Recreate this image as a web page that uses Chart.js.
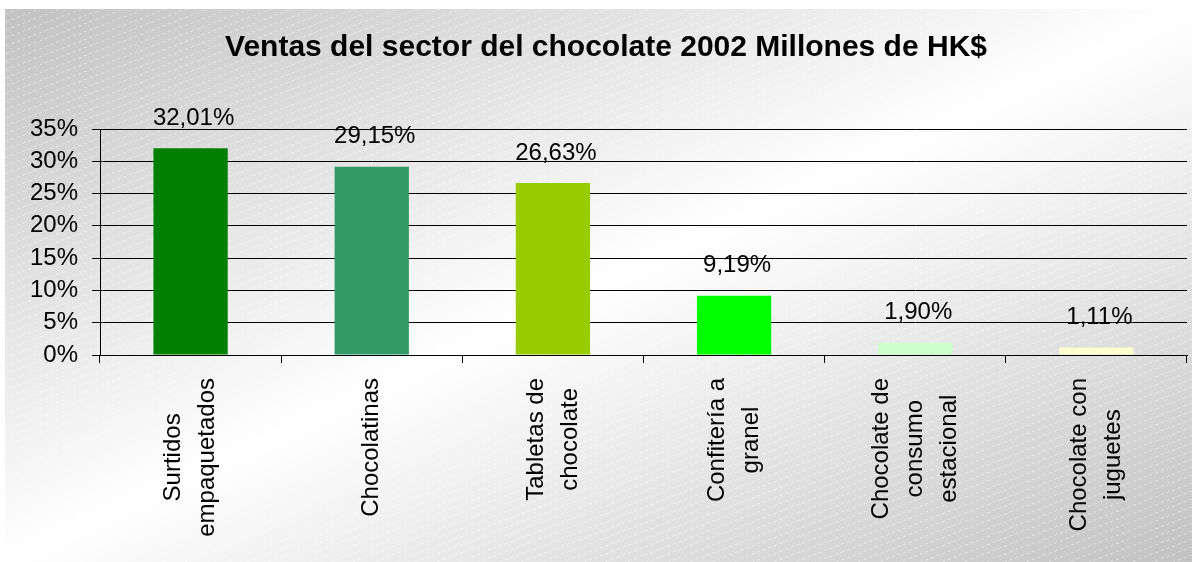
<!DOCTYPE html>
<html>
<head>
<meta charset="utf-8">
<script src="https://cdn.jsdelivr.net/npm/chart.js@4/dist/chart.umd.min.js"></script>
<style>
    html, body { margin: 0; padding: 0; background: #fff; }
    #wrap { width: 1192px; height: 562px; }
</style>
</head>
<body>
<div id="wrap"><canvas id="salesChart"></canvas></div>
<script>
const TITLE = 'Ventas del sector del chocolate 2002 Millones de HK$';

const categories = [
    ['Surtidos', 'empaquetados'],
    ['Chocolatinas'],
    ['Tabletas de', 'chocolate'],
    ['Confitería a', 'granel'],
    ['Chocolate de', 'consumo', 'estacional'],
    ['Chocolate con', 'juguetes']
];
const shares = [32.01, 29.15, 26.63, 9.19, 1.90, 1.11];
const barColors = ['#008000', '#339966', '#99CC00', '#00FF00', '#CCFFCC', '#FFFFCC'];

const FONT = '"Liberation Sans", Arial, sans-serif';

const fmtPct = v => v.toFixed(2).replace('.', ',') + '%';

// gradient + faint stripes behind everything
const backdrop = {
    id: 'backdrop',
    beforeDraw(chart) {
        const ctx = chart.ctx;
        const W = chart.width, H = chart.height;
        const x0 = 5, y0 = 9, w = W - x0, h = H - y0;
        ctx.save();
        ctx.fillStyle = '#fff';
        ctx.fillRect(0, 0, W, H);

        const cx = x0 + w / 2, cy = y0 + h / 2;
        const k = w * h / (w * w + h * h);
        const g = ctx.createLinearGradient(cx - h * k, cy - w * k, cx + h * k, cy + w * k);
        g.addColorStop(0, '#c2c2c2');
        g.addColorStop(0.5, '#ffffff');
        g.addColorStop(1, '#c2c2c2');
        ctx.fillStyle = g;
        ctx.fillRect(x0, y0, w, h);

        ctx.beginPath();
        ctx.rect(x0, y0, w, h);
        ctx.clip();
        ctx.strokeStyle = 'rgba(255,255,255,0.45)';
        ctx.lineWidth = 1;
        ctx.setLineDash([3, 3]);
        const slope = 0.38;
        for (let b = 0; b < H + W * slope; b += 8) {
            ctx.beginPath();
            ctx.moveTo(0, b);
            ctx.lineTo(W, b - W * slope);
            ctx.stroke();
        }
        ctx.restore();
    }
};

// title, value labels and centred multi-line category labels
const annotate = {
    id: 'annotate',
    afterDraw(chart) {
        const ctx = chart.ctx;
        const xs = chart.scales.x;
        const meta = chart.getDatasetMeta(0);
        ctx.save();
        ctx.fillStyle = '#000';

        ctx.font = 'bold 30px ' + FONT;
        ctx.textAlign = 'center';
        ctx.textBaseline = 'middle';
        ctx.fillText(TITLE, 606, 48);

        ctx.font = '24px ' + FONT;
        meta.data.forEach((bar, i) => {
            ctx.fillText(fmtPct(shares[i]), bar.x + 3, bar.y - 30);
        });

        ctx.font = '24px ' + FONT;
        const lineH = 34;
        const top = chart.chartArea.bottom + 23;
        categories.forEach((lines, i) => {
            const x = xs.getPixelForValue(i);
            const maxW = Math.max(...lines.map(l => ctx.measureText(l).width));
            ctx.save();
            ctx.translate(x, top);
            ctx.rotate(-Math.PI / 2);
            lines.forEach((l, j) => {
                const off = (j - (lines.length - 1) / 2) * lineH;
                ctx.fillText(l, -maxW / 2, off);
            });
            ctx.restore();
        });
        ctx.restore();
    }
};

function initChart() {
    const ctx = document.getElementById('salesChart').getContext('2d');
    new Chart(ctx, {
        type: 'bar',
        data: {
            labels: categories.map(c => c.join(' ')),
            datasets: [{
                data: shares,
                backgroundColor: barColors,
                borderWidth: 0,
                categoryPercentage: 1,
                barPercentage: 0.41
            }]
        },
        options: {
            responsive: true,
            maintainAspectRatio: false,
            animation: false,
            layout: { padding: { top: 129, left: 5, right: 5, bottom: 0 } },
            plugins: {
                legend: { display: false },
                title: { display: false },
                tooltip: { enabled: false }
            },
            scales: {
                x: {
                    grid: {
                        offset: true,
                        drawOnChartArea: false,
                        drawTicks: true,
                        tickLength: 8,
                        color: '#000'
                    },
                    border: { color: '#000', width: 1 },
                    ticks: { display: false },
                    afterFit: s => { s.height = 207; }
                },
                y: {
                    min: 0,
                    max: 35,
                    grid: { color: '#000', tickLength: 8, lineWidth: 1 },
                    border: { color: '#000', width: 1 },
                    ticks: {
                        stepSize: 5,
                        padding: 14,
                        color: '#000',
                        font: { family: FONT, size: 24 },
                        callback: v => v + '%'
                    },
                    afterFit: s => { s.width = 95; }
                }
            }
        },
        plugins: [backdrop, annotate]
    });
}

document.addEventListener('DOMContentLoaded', initChart);
</script>
</body>
</html>
